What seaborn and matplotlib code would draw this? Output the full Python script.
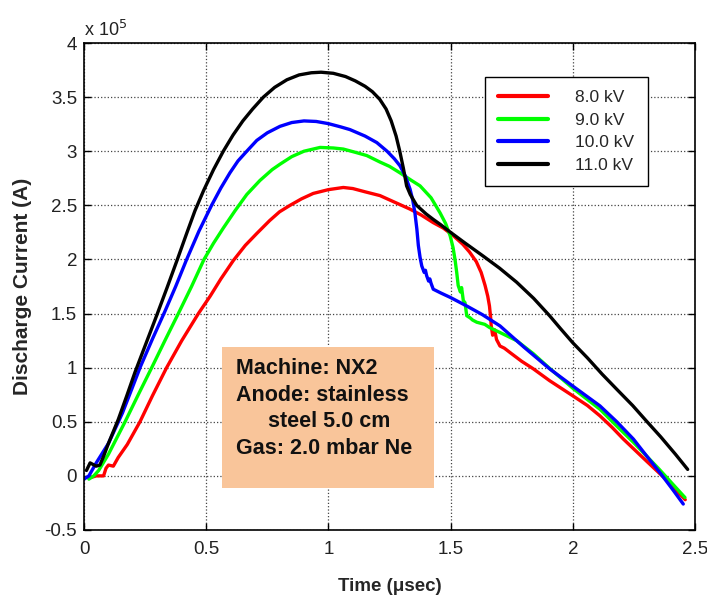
import numpy as np
import pandas as pd
import matplotlib
matplotlib.use("Agg")
import matplotlib.pyplot as plt
from matplotlib.patches import Rectangle
import seaborn as sns

# ---------------- data (current in units of 1e5 A, time in microseconds) -------------
labels = ["8.0 kV", "9.0 kV", "10.0 kV", "11.0 kV"]
colors = ["#FF0000", "#00FF00", "#0000FF", "#000000"]

t_8kv = [0.02, 0.05, 0.08, 0.09, 0.10, 0.12, 0.14, 0.177, 0.229, 0.28, 0.338, 0.40, 0.468,
         0.516, 0.56, 0.611, 0.66, 0.707, 0.76, 0.80, 0.843, 0.89, 0.938, 1.0, 1.061, 1.10,
         1.15, 1.211, 1.27, 1.334, 1.38, 1.429, 1.47, 1.511, 1.55, 1.577, 1.605, 1.625,
         1.641, 1.652, 1.659, 1.664, 1.666, 1.672, 1.68, 1.688, 1.702, 1.72, 1.743, 1.79,
         1.838, 1.905, 2.0, 2.06, 2.111, 2.16, 2.207, 2.30, 2.38, 2.46]
i_8kv = [-0.02, 0.0, 0.0, 0.07, 0.10, 0.09, 0.17, 0.29, 0.50, 0.74, 1.0, 1.25, 1.50,
         1.66, 1.82, 1.99, 2.13, 2.24, 2.36, 2.44, 2.50, 2.56, 2.61, 2.645, 2.665, 2.655,
         2.625, 2.59, 2.53, 2.465, 2.41, 2.34, 2.29, 2.22, 2.14, 2.07, 1.98, 1.88,
         1.76, 1.66, 1.57, 1.46, 1.39, 1.30, 1.35, 1.26, 1.20, 1.18, 1.14, 1.06,
         0.99, 0.88, 0.74, 0.65, 0.555, 0.45, 0.34, 0.14, -0.03, -0.22]

t_9kv = [0.02, 0.04, 0.06, 0.10, 0.168, 0.222, 0.277, 0.331, 0.386, 0.44, 0.491, 0.53, 0.57,
         0.618, 0.666, 0.72, 0.77, 0.802, 0.85, 0.90, 0.966, 1.02, 1.061, 1.11, 1.157, 1.211,
         1.25, 1.293, 1.34, 1.375, 1.42, 1.457, 1.48, 1.498, 1.51, 1.518, 1.525, 1.531,
         1.540, 1.545, 1.552, 1.559, 1.566, 1.58, 1.59, 1.607, 1.64, 1.66, 1.702, 1.77,
         1.838, 1.907, 2.0, 2.111, 2.18, 2.248, 2.35, 2.459]
i_9kv = [-0.03, 0.0, 0.05, 0.20, 0.50, 0.75, 1.0, 1.25, 1.50, 1.75, 2.0, 2.15, 2.29,
         2.45, 2.60, 2.73, 2.83, 2.88, 2.95, 3.00, 3.035, 3.03, 3.02, 2.99, 2.96, 2.90,
         2.86, 2.80, 2.73, 2.68, 2.57, 2.43, 2.33, 2.22, 2.11, 2.0, 1.88, 1.76,
         1.70, 1.74, 1.62, 1.60, 1.48, 1.46, 1.44, 1.42, 1.40, 1.37, 1.325, 1.25,
         1.13, 0.99, 0.81, 0.616, 0.46, 0.31, 0.07, -0.20]

t_10kv = [0.0, 0.02, 0.05, 0.10, 0.157, 0.195, 0.231, 0.281, 0.331, 0.375, 0.42, 0.47, 0.522,
          0.56, 0.597, 0.63, 0.666, 0.707, 0.75, 0.802, 0.85, 0.90, 0.95, 1.0, 1.05, 1.088,
          1.15, 1.198, 1.24, 1.27, 1.293, 1.315, 1.334, 1.345, 1.354, 1.362, 1.368, 1.375,
          1.382, 1.392, 1.397, 1.402, 1.41, 1.415, 1.42, 1.429, 1.46, 1.498, 1.566, 1.63,
          1.702, 1.80, 1.907, 2.0, 2.111, 2.18, 2.248, 2.30, 2.36, 2.41, 2.452]
i_10kv = [-0.03, 0.0, 0.12, 0.30, 0.58, 0.80, 1.01, 1.27, 1.52, 1.75, 2.0, 2.26, 2.50,
          2.66, 2.80, 2.91, 3.0, 3.10, 3.17, 3.23, 3.265, 3.28, 3.275, 3.255, 3.225, 3.20,
          3.14, 3.08, 3.0, 2.93, 2.865, 2.77, 2.65, 2.55, 2.43, 2.28, 2.13, 2.02,
          1.94, 1.88, 1.90, 1.85, 1.80, 1.82, 1.78, 1.725, 1.69, 1.65, 1.57, 1.49,
          1.386, 1.19, 0.986, 0.83, 0.647, 0.50, 0.34, 0.19, 0.02, -0.13, -0.26]

t_11kv = [0.01, 0.025, 0.05, 0.065, 0.08, 0.10, 0.14, 0.175, 0.209, 0.253, 0.297, 0.34, 0.382,
          0.42, 0.454, 0.49, 0.53, 0.57, 0.61, 0.65, 0.69, 0.734, 0.78, 0.83, 0.88, 0.93,
          0.97, 1.02, 1.07, 1.11, 1.15, 1.18, 1.21, 1.236, 1.257, 1.277, 1.292, 1.307,
          1.32, 1.335, 1.361, 1.40, 1.429, 1.46, 1.50, 1.56, 1.634, 1.70, 1.77, 1.84,
          1.905, 1.95, 2.0, 2.06, 2.12, 2.18, 2.245, 2.30, 2.36, 2.42, 2.47]
i_11kv = [0.05, 0.12, 0.09, 0.10, 0.18, 0.30, 0.52, 0.74, 0.96, 1.22, 1.48, 1.74, 2.0,
          2.24, 2.45, 2.64, 2.83, 3.0, 3.15, 3.28, 3.39, 3.50, 3.59, 3.66, 3.705, 3.725,
          3.73, 3.72, 3.69, 3.65, 3.60, 3.55, 3.48, 3.39, 3.28, 3.14, 3.0, 2.84,
          2.68, 2.60, 2.50, 2.42, 2.37, 2.32, 2.25, 2.15, 2.03, 1.92, 1.79, 1.64,
          1.48, 1.36, 1.23, 1.09, 0.94, 0.80, 0.65, 0.51, 0.36, 0.20, 0.06]

x_ticks = [0, 0.5, 1, 1.5, 2, 2.5]
x_tick_labels = ["0", "0.5", "1", "1.5", "2", "2.5"]
y_ticks = [-0.5, 0, 0.5, 1, 1.5, 2, 2.5, 3, 3.5, 4]
y_tick_labels = ["-0.5", "0", "0.5", "1", "1.5", "2", "2.5", "3", "3.5", "4"]

info_lines = ["Machine: NX2", "Anode: stainless", "steel 5.0 cm", "Gas: 2.0 mbar Ne"]

# ---------------- build long table --------------------------------------------------
frames = []
for lab, t, i in zip(labels, [t_8kv, t_9kv, t_10kv, t_11kv], [i_8kv, i_9kv, i_10kv, i_11kv]):
    frames.append(pd.DataFrame({"t": t, "i": i, "voltage": lab}))
df = pd.concat(frames, ignore_index=True)

# ---------------- style ------------------------------------------------------------
sns.set_theme(style="white")
plt.rcParams["font.family"] = ["Liberation Sans", "DejaVu Sans"]

fig = plt.figure(figsize=(7.07, 6.00), dpi=100)
ax = fig.add_axes([84 / 707, 70 / 600, 611 / 707, 487 / 600])

sns.lineplot(data=df, x="t", y="i", hue="voltage", hue_order=labels,
             palette=dict(zip(labels, colors)), estimator=None, sort=False,
             linewidth=2.4, ax=ax, zorder=3)

ax.set_xlim(0, 2.5)
ax.set_ylim(-0.5, 4)
ax.set_xticks(x_ticks)
ax.set_xticklabels(x_tick_labels, fontsize=13.5, color="#222222")
ax.set_yticks(y_ticks)
ax.set_yticklabels(y_tick_labels, fontsize=13.5, color="#222222")
ax.tick_params(axis="both", direction="in", length=5, width=1, color="black",
               top=True, right=True, bottom=True, left=True)
ax.tick_params(axis="x", pad=8)
ax.tick_params(axis="y", pad=5)

ax.grid(True, linestyle=":", color="#444444", linewidth=0.9)
ax.set_axisbelow(True)
for s in ax.spines.values():
    s.set_color("black")
    s.set_linewidth(1.2)
    s.set_zorder(5)

ax.set_xlabel("Time (\u03bcsec)", fontsize=13.5, fontweight="bold")
ax.set_ylabel("Discharge Current (A)", fontsize=15, fontweight="bold")
ax.xaxis.set_label_coords(0.5, -0.099)
ax.yaxis.set_label_coords(-0.085, 0.5)

ax.text(0.0, 1.006, r"x 10$^{5}$", transform=ax.transAxes, fontsize=13,
        ha="left", va="bottom", color="#222222")

# legend
handles, _ = ax.get_legend_handles_labels()
leg = ax.legend(handles=handles, labels=labels, loc="upper left",
                bbox_to_anchor=(0.656, 0.930), borderaxespad=0, fontsize=12.5,
                frameon=True, fancybox=False, framealpha=1, edgecolor="black",
                handlelength=2.9, handletextpad=1.57, labelspacing=0.42,
                borderpad=0.75)
leg.get_frame().set_linewidth(1.0)
for ln in leg.get_lines():
    ln.set_linewidth(3)
leg.set_zorder(6)

# annotation box
box = Rectangle((0.226, 0.086), 0.347, 0.29, transform=ax.transAxes,
                facecolor="#F9C59A", edgecolor="none", zorder=2.5)
ax.add_patch(box)
text_x = [0.249, 0.249, 0.301, 0.249]
text_y = [0.331, 0.276, 0.222, 0.167]
for s, x, y in zip(info_lines, text_x, text_y):
    ax.text(x, y, s, transform=ax.transAxes, fontsize=15.5, fontweight="bold",
            ha="left", va="center", color="#111111", zorder=4)

fig.savefig("out.png", dpi=100)
